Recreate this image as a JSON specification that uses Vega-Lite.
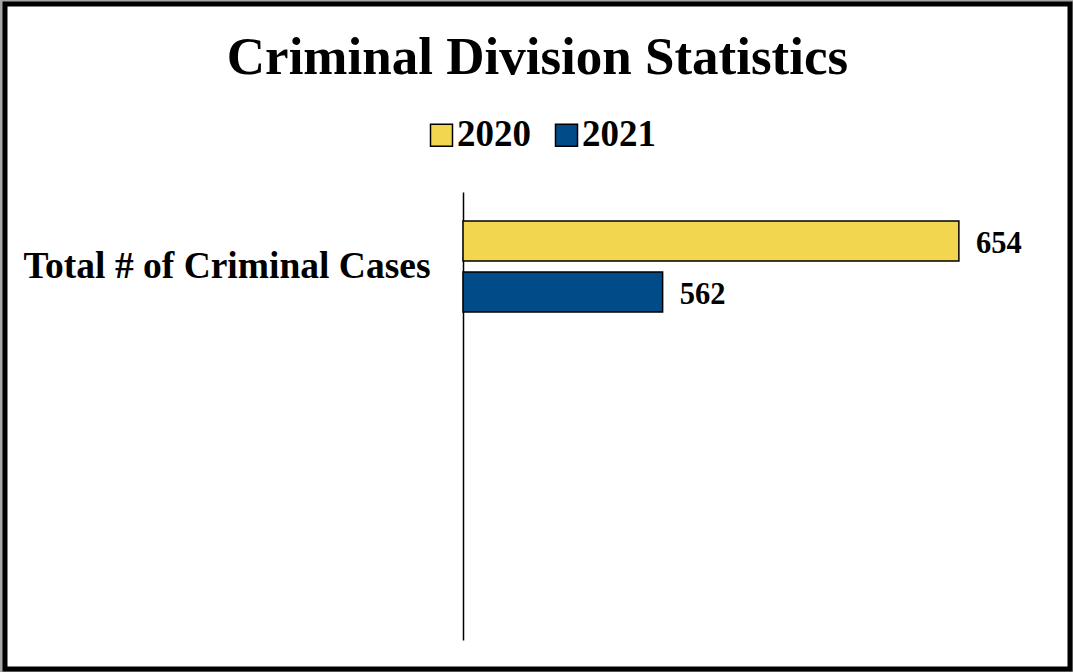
{
  "$schema": "https://vega.github.io/schema/vega-lite/v6.json",
  "width": 1065,
  "height": 665,
  "autosize": {"type": "none"},
  "padding": {"left": 5, "top": 4, "right": 3, "bottom": 3},
  "background": "#a6a6a6",
  "title": {
    "text": "Criminal Division Statistics",
    "font": "Liberation Serif",
    "fontSize": 53,
    "fontWeight": "bold",
    "color": "black",
    "anchor": "middle",
    "offset": -123,
    "baseline": "alphabetic"
  },
  "data": {
    "values": [
      {"category": "Total # of Criminal Cases", "year": "2020", "cases": 654},
      {"category": "Total # of Criminal Cases", "year": "2021", "cases": 562}
    ]
  },
  "encoding": {
    "y": {
      "field": "category",
      "type": "nominal",
      "title": null,
      "scale": {"range": [188, 636], "paddingInner": 0.49, "paddingOuter": 1, "align": 0.0812},
      "axis": {
        "orient": "left",
        "offset": -458,
        "domain": true,
        "domainColor": "black",
        "domainWidth": 1.5,
        "ticks": false,
        "grid": false,
        "labelFont": "Liberation Serif",
        "labelFontSize": 37.5,
        "labelFontWeight": "bold",
        "labelColor": "black",
        "labelPadding": 33,
        "labelLimit": 0,
        "title": null
      }
    },
    "yOffset": {
      "field": "year",
      "type": "nominal",
      "scale": {"paddingInner": 0.2157, "paddingOuter": 0}
    },
    "x": {
      "field": "cases",
      "type": "quantitative",
      "scale": {"domain": [500, 680], "range": [458, 1037.6], "zero": false},
      "axis": null
    }
  },
  "layer": [
    {
      "mark": {"type": "bar", "stroke": "black", "strokeWidth": 1.5},
      "encoding": {
        "x2": {"datum": 500},
        "color": {
          "field": "year",
          "type": "nominal",
          "scale": {"domain": ["2020", "2021"], "range": ["#F2D650", "#004B88"]},
          "legend": {
            "orient": "none",
            "legendX": 418,
            "legendY": 112.5,
            "direction": "horizontal",
            "title": null,
            "symbolType": "square",
            "symbolSize": 484,
            "symbolStrokeColor": "black",
            "symbolStrokeWidth": 1.5,
            "labelFont": "Liberation Serif",
            "labelFontSize": 37,
            "labelFontWeight": "bold",
            "labelColor": "black",
            "labelOffset": -3,
            "columnPadding": 17
          }
        }
      }
    },
    {
      "mark": {
        "type": "text",
        "align": "left",
        "baseline": "middle",
        "dx": 17,
        "dy": 3,
        "font": "Liberation Serif",
        "fontSize": 30.5,
        "fontWeight": "bold",
        "color": "black"
      },
      "encoding": {"text": {"field": "cases", "type": "quantitative"}}
    }
  ],
  "config": {
    "view": {"stroke": "black", "strokeWidth": 5, "fill": "white"}
  }
}
